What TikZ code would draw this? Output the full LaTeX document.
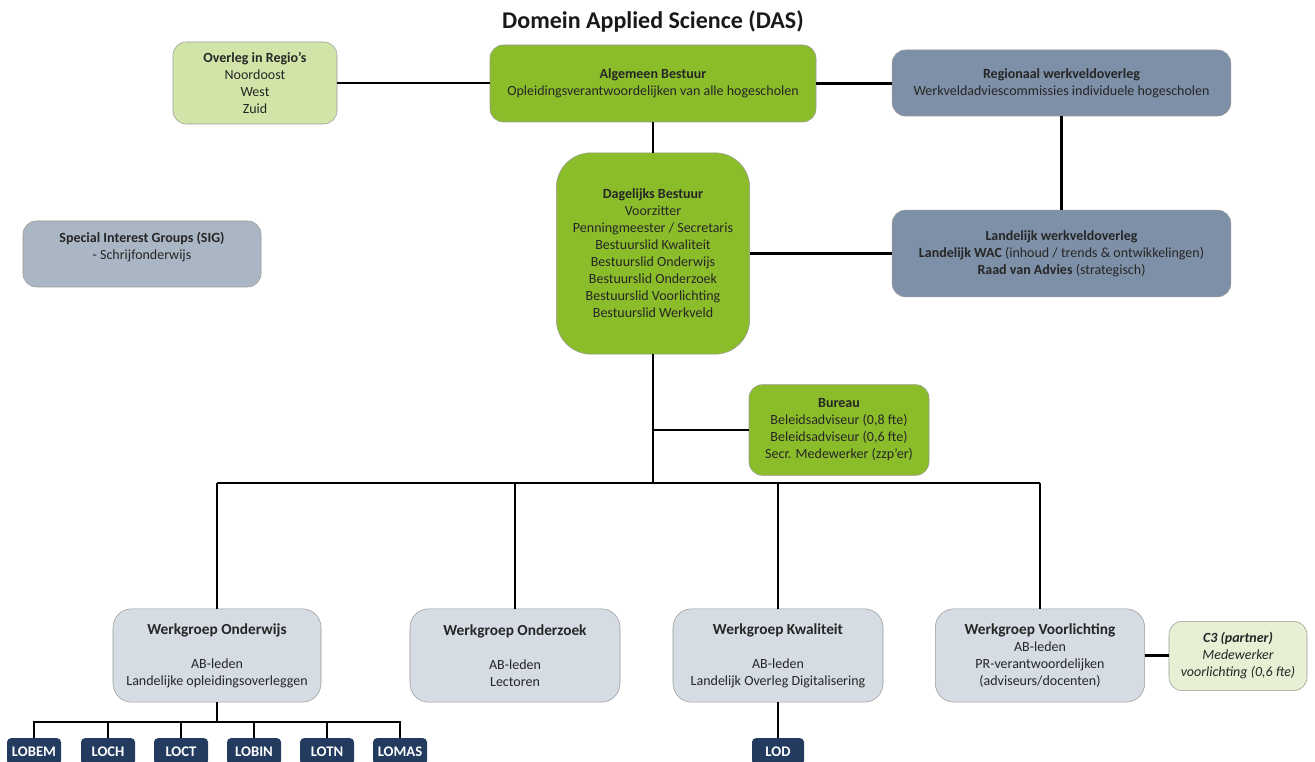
\documentclass[tikz,border=0pt]{standalone}
\usepackage{fontspec}
\setmainfont{Carlito}
\begin{document}
\begin{tikzpicture}[x=0.75pt,y=-0.75pt,
  box/.style={draw=black!40,line width=0.4pt,rounded corners=10,align=center,inner sep=0pt,
    font=\fontsize{10.5}{12.75}\selectfont,text=black!85},
  conn/.style={line width=2pt,black},
  lob/.style={fill=navy,rounded corners=3,text=white,font=\fontsize{11}{12}\selectfont\bfseries,
    minimum width=40.5pt,minimum height=20pt,inner sep=0pt}]
\definecolor{agreen}{HTML}{8BBD2B}
\definecolor{lgreen}{HTML}{D2E5A9}
\definecolor{slate}{HTML}{7E90A7}
\definecolor{sig}{HTML}{ABB6C4}
\definecolor{wg}{HTML}{D6DCE4}
\definecolor{cthree}{HTML}{E7F0D4}
\definecolor{navy}{HTML}{223B5E}
\clip (0,0) rectangle (1315,762);
\useasboundingbox (0,0) rectangle (1315,762);
\fill[white] (0,0) rectangle (1315,762);

\node[font=\fontsize{18}{21}\selectfont\bfseries,text=black!90] (title) at (653,21) {Domein Applied Science (DAS)};

\node[box,fill=lgreen,minimum width=123pt,minimum height=61.5pt] (reg) at (255,83)
  {\textbf{Overleg in Regio’s}\\Noordoost\\West\\Zuid};
\node[box,fill=agreen,minimum width=244.5pt,minimum height=57.75pt] (ab) at (653,83.5)
  {\textbf{Algemeen Bestuur}\\Opleidingsverantwoordelijken van alle hogescholen};
\node[box,fill=slate,minimum width=254pt,minimum height=49.5pt] (rwo) at (1061.5,83)
  {\textbf{Regionaal werkveldoverleg}\\Werkveldadviescommissies individuele hogescholen};
\node[box,fill=agreen,rounded corners=26,minimum width=145pt,minimum height=151pt] (db) at (653,253.5)
  {\textbf{Dagelijks Bestuur}\\Voorzitter\\Penningmeester / Secretaris\\Bestuurslid Kwaliteit\\Bestuurslid Onderwijs\\Bestuurslid Onderzoek\\Bestuurslid Voorlichting\\Bestuurslid Werkveld};
\node[box,fill=slate,minimum width=254pt,minimum height=65pt] (lwo) at (1061.5,253.5)
  {\textbf{Landelijk werkveldoverleg}\\\textbf{Landelijk WAC} (inhoud / trends \& ontwikkelingen)\\\textbf{Raad van Advies} (strategisch)};
\node[box,fill=sig,minimum width=178.5pt,minimum height=49.5pt] (sig) at (142,254)
  {\textbf{Special Interest Groups (SIG)}\\- Schrijfonderwijs\\\mbox{}};
\node[box,fill=agreen,minimum width=135pt,minimum height=68pt] (bur) at (839,430)
  {\textbf{Bureau}\\Beleidsadviseur (0,8 fte)\\Beleidsadviseur (0,6 fte)\\Secr. Medewerker (zzp'er)};

\node[box,fill=wg,rounded corners=14,minimum width=156pt,minimum height=70pt] (wo) at (217,655.5)
  {\textbf{\fontsize{11.5}{13}\selectfont Werkgroep Onderwijs}\\\mbox{}\\AB-leden\\Landelijke opleidingsoverleggen};
\node[box,fill=wg,rounded corners=14,minimum width=157.5pt,minimum height=70pt] (wz) at (515,655.5)
  {\textbf{\fontsize{11.5}{13}\selectfont Werkgroep Onderzoek}\\\mbox{}\\AB-leden\\Lectoren};
\node[box,fill=wg,rounded corners=14,minimum width=157.5pt,minimum height=70pt] (wk) at (778,655.5)
  {\textbf{\fontsize{11.5}{13}\selectfont Werkgroep Kwaliteit}\\\mbox{}\\AB-leden\\Landelijk Overleg Digitalisering};
\node[box,fill=wg,rounded corners=14,minimum width=157pt,minimum height=70pt] (wv) at (1040,655.5)
  {\textbf{\fontsize{11.5}{13}\selectfont Werkgroep Voorlichting}\\AB-leden\\PR-verantwoordelijken\\(adviseurs/docenten)};
\node[box,fill=cthree,minimum width=103.5pt,minimum height=52pt] (c3) at (1238,656)
  {\textbf{\itshape C3 (partner)}\\\itshape Medewerker\\\itshape voorlichting (0,6 fte)};

\node[lob] (l1) at (34,751.5) {LOBEM};
\node[lob] (l2) at (108,751.5) {LOCH};
\node[lob] (l3) at (181,751.5) {LOCT};
\node[lob] (l4) at (254,751.5) {LOBIN};
\node[lob] (l5) at (327,751.5) {LOTN};
\node[lob] (l6) at (400,751.5) {LOMAS};
\node[lob,minimum width=39pt] (lod) at (778,751.5) {LOD};

% connectors
\draw[conn] (reg.east) -- (reg.east -| ab.west);
\draw[conn] (ab.east) -- (ab.east -| rwo.west);
\draw[conn] (ab.south) -- (db.north);
\draw[conn] (rwo.south) -- (rwo.south |- lwo.north);
\draw[conn] (db.east |- lwo.west) -- (lwo.west);
\coordinate (busL) at (217,483);
\coordinate (busR) at (1040,483);
\draw[conn] (db.south) -- (db.south |- busL);
\draw[conn] (db.south |- bur.west) -- (bur.west);
\draw[conn] (busL) -- (busR);
\draw[conn] (busL) -- (wo.north);
\draw[conn] (wz.north |- busL) -- (wz.north);
\draw[conn] (wk.north |- busL) -- (wk.north);
\draw[conn] (busR) -- (wv.north);
\draw[conn] (wv.east) -- (wv.east -| c3.west);
\coordinate (lbus) at (217,722);
\draw[conn] (wo.south) -- (lbus);
\draw[conn] (l1.north) |- (lbus) -| (l6.north);
\draw[conn] (l2.north) -- (l2.north |- lbus);
\draw[conn] (l3.north) -- (l3.north |- lbus);
\draw[conn] (l4.north) -- (l4.north |- lbus);
\draw[conn] (l5.north) -- (l5.north |- lbus);
\draw[conn] (wk.south) -- (lod.north);
\end{tikzpicture}
\end{document}
